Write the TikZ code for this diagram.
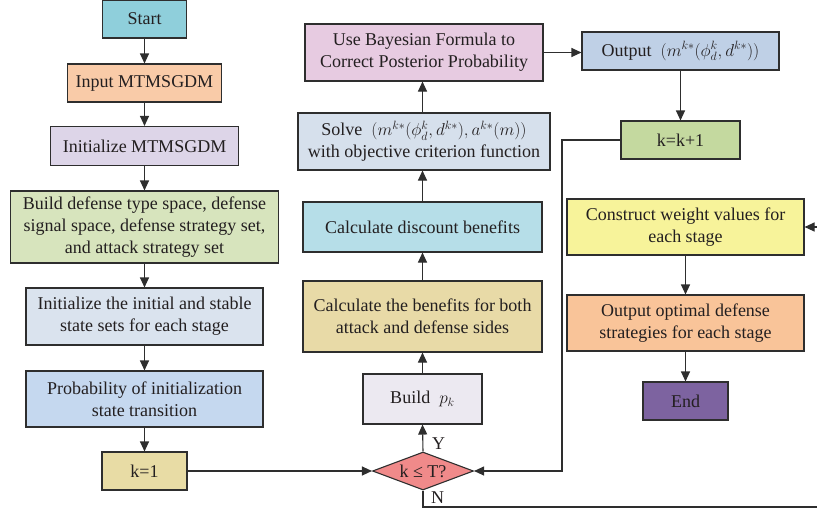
\documentclass[tikz,border=0pt]{standalone}
\usepackage{fontspec}
\setmainfont{Liberation Serif}
\usetikzlibrary{arrows.meta,shapes.geometric}
\definecolor{cStart}{HTML}{8FCFDB}
\definecolor{cInput}{HTML}{F9CBA8}
\definecolor{cInit}{HTML}{DDD5E8}
\definecolor{cBuild}{HTML}{D7E4BD}
\definecolor{cInitS}{HTML}{DAE3EE}
\definecolor{cProb}{HTML}{C5D8EF}
\definecolor{cKone}{HTML}{E8DCA5}
\definecolor{cBayes}{HTML}{E7CBE1}
\definecolor{cSolve}{HTML}{D6E0EC}
\definecolor{cDisc}{HTML}{B6DEE8}
\definecolor{cBen}{HTML}{E8DAA7}
\definecolor{cPk}{HTML}{ECE9F1}
\definecolor{cDia}{HTML}{F08A8A}
\definecolor{cOut}{HTML}{BFD0E6}
\definecolor{cKk}{HTML}{C4D99F}
\definecolor{cCons}{HTML}{F7F39A}
\definecolor{cOpt}{HTML}{F9C499}
\definecolor{cEnd}{HTML}{7D63A0}
\definecolor{cLine}{HTML}{2E2E2E}
\definecolor{cText}{HTML}{231F20}
\tikzset{
  box/.style={draw=cLine, line width=1.1pt, align=center, inner sep=0pt,
    text=cText, font=\fontsize{18}{22}\selectfont},
  conn/.style={draw=cLine, line width=1.1pt, -{Triangle[length=10pt,width=9pt]}},
  lbl/.style={text=cText, font=\fontsize{18}{22}\selectfont, inner sep=0pt}
}
\begin{document}
\begin{tikzpicture}[x=1pt,y=-1pt]
\useasboundingbox (0,0) rectangle (817,512);
% left column
\node[box, fill=cStart, minimum width=84pt, minimum height=38pt] (start) at (144.5,19) {Start};
\node[box, fill=cInput, minimum width=154pt, minimum height=38pt] (input) at (144.5,83) {Input MTMSGDM};
\node[box, fill=cInit, minimum width=188pt, minimum height=39pt] (init) at (144.5,146) {Initialize MTMSGDM};
\node[box, fill=cBuild, minimum width=268pt, minimum height=72pt] (build) at (144.5,227) {Build defense type space, defense\\signal space, defense strategy set,\\and attack strategy set};
\node[box, fill=cInitS, minimum width=237pt, minimum height=57pt] (inits) at (144.5,316.5) {Initialize the initial and stable\\state sets for each stage};
\node[box, fill=cProb, minimum width=237pt, minimum height=56pt] (prob) at (144.5,399) {Probability of initialization\\state transition};
\node[box, fill=cKone, minimum width=85pt, minimum height=38pt] (kone) at (144.5,471) {k=1};
% middle column
\node[box, fill=cBayes, minimum width=238pt, minimum height=57pt] (bayes) at (424,52.5) {Use Bayesian Formula to\\Correct Posterior Probability};
\node[box, fill=cSolve, minimum width=252pt, minimum height=57pt] (solve) at (424,141.5) {Solve\ \ $(m^{k*}(\phi_d^k,d^{k*}),a^{k*}(m))$\\with objective criterion function};
\node[box, fill=cDisc, minimum width=239pt, minimum height=50pt] (disc) at (422.5,227) {Calculate discount benefits};
\node[box, fill=cBen, minimum width=239pt, minimum height=71pt] (ben) at (422.5,316.5) {Calculate the benefits for both\\attack and defense sides};
\node[box, fill=cPk, minimum width=119pt, minimum height=50pt] (pk) at (422.5,399) {Build\ \ $p_k$};
\node[diamond, aspect=2.66, draw=cLine, line width=1.1pt, fill=cDia, inner sep=0pt,
  minimum width=101pt, minimum height=38pt, text=cText, font=\fontsize{18}{22}\selectfont] (dia) at (423,471) {k ≤ T?};
% right column
\node[box, fill=cOut, minimum width=197pt, minimum height=38pt] (out) at (680.5,51) {Output\ \ $(m^{k*}(\phi_d^k,d^{k*}))$};
\node[box, fill=cKk, minimum width=119pt, minimum height=38pt] (kk) at (680.5,140) {k=k+1};
\node[box, fill=cCons, minimum width=237pt, minimum height=56pt] (cons) at (685.5,227) {Construct weight values for\\each stage};
\node[box, fill=cOpt, minimum width=237pt, minimum height=56pt] (opt) at (685.5,323) {Output optimal defense\\strategies for each stage};
\node[box, fill=cEnd, minimum width=85pt, minimum height=38pt] (end) at (685.5,401) {End};
% left column arrows
\draw[conn] (start) -- (input);
\draw[conn] (input) -- (init);
\draw[conn] (init) -- (build);
\draw[conn] (build) -- (inits);
\draw[conn] (inits) -- (prob);
\draw[conn] (prob) -- (kone);
\draw[conn] (kone) -- (dia);
% middle column arrows
\draw[conn] (dia.north) -- (pk.south);
\draw[conn] (pk) -- (ben);
\draw[conn] (ben) -- (disc);
\draw[conn] (disc.north) -- (disc.north |- solve.south);
\draw[conn] (solve.north -| disc.north) -- (disc.north |- bayes.south);
\draw[conn] (bayes.east) -- (bayes.east -| out.west);
\draw[conn] (out) -- (kk);
% loop back
\coordinate (kl) at (562,140);
\coordinate (kb) at (562,471);
\draw[conn] (kk.west) -- (kl) -- (kb) -- (dia.east);
% no branch
\coordinate (nb) at (423,507);
\coordinate (nr) at (830,507);
\coordinate (nt) at (830,227);
\draw[conn] (dia.south) -- (nb) -- (nr) -- (nt) -- (cons.east);
\draw[conn] (cons) -- (opt);
\draw[conn] (opt) -- (end);
% labels
\node[lbl, anchor=west] (ylab) at (432,444) {Y};
\node[lbl, anchor=west] (nlab) at (431,498) {N};
\end{tikzpicture}
\end{document}
